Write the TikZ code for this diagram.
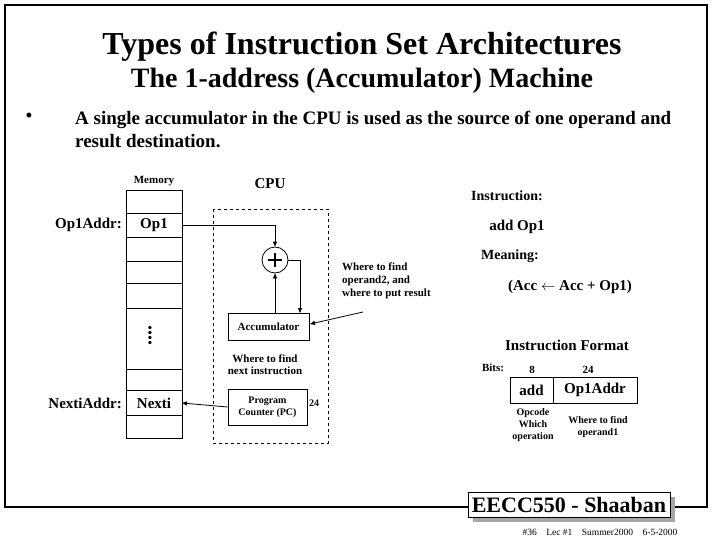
\documentclass[tikz,border=0pt]{standalone}
\usepackage{fontspec}
\setmainfont{Liberation Serif}
\usetikzlibrary{arrows.meta}
\begin{document}
\begin{tikzpicture}[x=1pt,y=-1pt,
  every node/.style={font=\bfseries,inner sep=0pt},
  cell/.style={draw,line width=0.6pt},
  arr/.style={-{Triangle[length=5pt,width=4pt]},line width=0.8pt},
  lab/.style={font=\bfseries\fontsize{11}{13}\selectfont,align=left}]
\useasboundingbox (0,0) rectangle (720,540);
\fill[white] (0,0) rectangle (720,540);
% frame
\draw[line width=1.5pt] (468,507) -- (5,507) -- (5,5) -- (707,5) -- (707,507) -- (670,507);
\node (t1) at (362,47) {\fontsize{32}{36}\selectfont Types of Instruction Set Architectures};
\node (t2) at (362,81) {\fontsize{28}{32}\selectfont The 1-address (Accumulator) Machine};
\node (bul) at (29,117) {\fontsize{18}{20}\selectfont •};
\node[anchor=west,align=left,font=\bfseries\fontsize{19}{23}\selectfont] (btxt) at (75,129) {A single accumulator in the CPU is used as the source of one operand and\\ result destination.};
% memory
\draw[cell] (126,190) rectangle (182,438);
\foreach \y in {213,237,261,283,308,369,390,415} \draw[cell] (126,\y) -- (182,\y);
\node (mem) at (154,181) {\fontsize{11}{13}\selectfont Memory};
\node (op1) at (154,225) {\fontsize{15}{18}\selectfont Op1};
\node (nexti) at (154,403) {\fontsize{15}{18}\selectfont Nexti};
\node[anchor=east] (op1a) at (122,225) {\fontsize{15}{18}\selectfont Op1Addr:};
\node[anchor=east] (nxa) at (122,403) {\fontsize{15}{18}\selectfont NextiAddr:};
\node (dots) at (150,335) {\fontsize{20}{18}\selectfont\rotatebox{90}{....}};
% CPU
\node (cpu) at (270,184) {\fontsize{15}{18}\selectfont CPU};
\draw[dashed,line width=0.6pt] (213,209) rectangle (328,443);
\node[draw,circle,minimum size=26pt,line width=0.8pt] (plus) at (275,260) {};
\draw[line width=1.2pt] (268,260) -- (282,260) (275,253) -- (275,267);
\node[draw,cell,minimum width=81pt,minimum height=27pt] (acc) at (268.5,326.5) {\fontsize{11}{13}\selectfont Accumulator};
\node[draw,cell,minimum width=79pt,minimum height=36pt,align=center] (pc) at (267.5,407) {\fontsize{10}{13}\selectfont Program\\ \fontsize{10}{13}\selectfont Counter (PC)};
\node (n24) at (314,403) {\fontsize{10}{12}\selectfont 24};
\coordinate (m1) at (275,225);
\draw[line width=0.6pt] (182,225) -- (m1);
\draw[arr] (m1) -- (plus.north);
\coordinate (m2) at (300,260);
\draw[line width=0.6pt] (plus.east) -- (m2);
\draw[arr] (m2) -- (300,313);
\draw[arr,line width=0.6pt] (275,313) -- (plus.south);
\draw[arr] (pc.west) -- (182,403);
\node[lab,anchor=west] (wop) at (342,281) {\fontsize{11}{13}\selectfont Where to find\\ \fontsize{11}{13}\selectfont operand2, and\\ \fontsize{11}{13}\selectfont where to put result};
\coordinate (wst) at (363,312);
\draw[arr] (wst) -- (310,324);
\node[align=center] (wnext) at (265,365) {\fontsize{11}{13}\selectfont Where to find\\ \fontsize{11}{13}\selectfont next instruction};
% right
\node (ins) at (507,196) {\fontsize{14}{18}\selectfont Instruction:};
\node (add) at (517,227) {\fontsize{15}{18}\selectfont add Op1};
\node (mean) at (510,256) {\fontsize{14}{18}\selectfont Meaning:};
\node (acc2) at (570,287) {\fontsize{15}{18}\selectfont (Acc $\leftarrow$ Acc + Op1)};
\node (ifmt) at (567,345) {\fontsize{15}{18}\selectfont Instruction Format};
\node (bits) at (493,368) {\fontsize{11}{13}\selectfont Bits:};
\node (b8) at (532,370) {\fontsize{11}{13}\selectfont 8};
\node (b24) at (588,370) {\fontsize{11}{13}\selectfont 24};
\node[draw,cell,minimum width=43pt,minimum height=26pt] (fadd) at (531.5,390) {\fontsize{15}{18}\selectfont add};
\node[draw,cell,minimum width=84pt,minimum height=26pt] (faddr) at (595,390) {\fontsize{15}{18}\selectfont Op1Addr};
\node[align=center] (opc) at (533,425) {\fontsize{10}{14}\selectfont Opcode\\ \fontsize{10}{14}\selectfont Which\\ \fontsize{10}{14}\selectfont operation};
\node[align=center] (wop1) at (598,427) {\fontsize{10}{14}\selectfont Where to find\\ \fontsize{10}{14}\selectfont operand1};
% footer
\fill[gray!70] (473,497) rectangle (675,522);
\node[draw,fill=white,line width=0.8pt,minimum width=202pt,minimum height=25pt] (ee) at (569,504.5) {\fontsize{22}{26}\selectfont EECC550 - Shaaban};
\node (foot) at (600,532) {\fontsize{9.5}{10}\selectfont\mdseries \#36\quad Lec \#1\quad Summer2000\quad 6-5-2000};
\end{tikzpicture}
\end{document}
